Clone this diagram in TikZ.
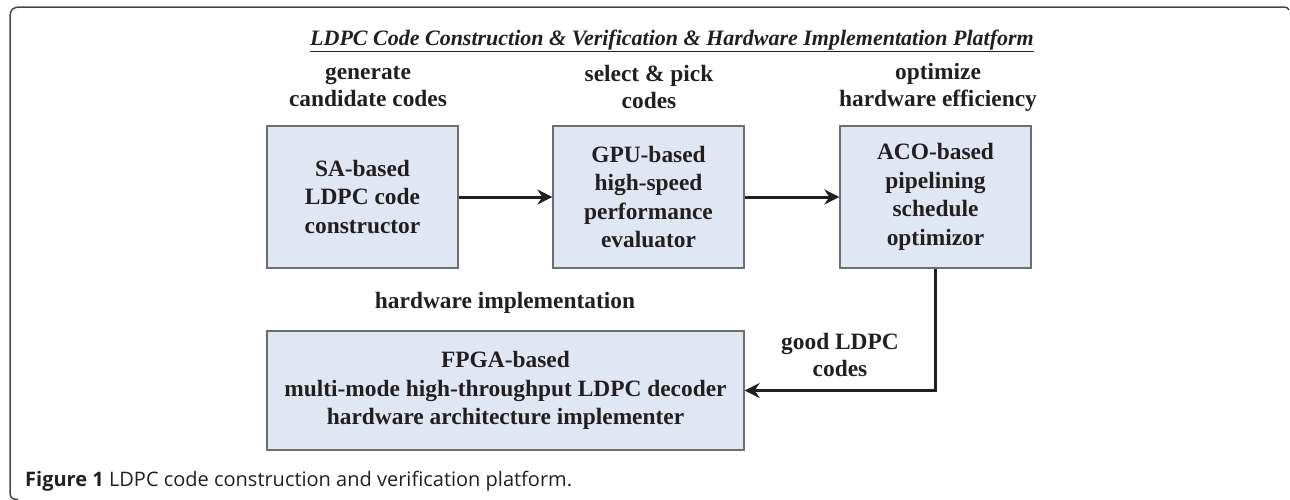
\documentclass[tikz,border=0pt]{standalone}
\usepackage{fontspec}
\setmainfont{Liberation Serif}
\newfontfamily\capfont{Open Sans}
\usetikzlibrary{arrows.meta}
\definecolor{boxfill}{RGB}{225,231,242}
\definecolor{boxdraw}{RGB}{110,110,110}
\definecolor{ink}{RGB}{35,31,32}
\definecolor{framecol}{RGB}{70,70,70}
\tikzset{
  blockbox/.style={draw=boxdraw, fill=boxfill, line width=1.2pt, align=center,
    text=ink, font=\bfseries\fontsize{23.4}{28.5}\selectfont, inner sep=0pt},
  lbl/.style={align=center, text=ink, font=\bfseries\fontsize{23.4}{27}\selectfont, inner sep=0pt},
  flow/.style={draw=ink, line width=3pt, -{Stealth[length=15pt,width=15pt]}},
}
\begin{document}
\begin{tikzpicture}[x=1pt,y=-1pt]
\useasboundingbox (0,0) rectangle (1290,499);
% frame
\draw[framecol, line width=1.5pt] (18,499.5) .. controls (10,499) and (10,497) .. (10,489) -- (10,19) .. controls (10,9) and (12,7) .. (22,7) -- (1284,7) .. controls (1287,7) and (1288,8) .. (1289,10);
% title
\node[anchor=base, text=ink, font=\bfseries\itshape\fontsize{22}{26}\selectfont, inner sep=0pt] (title) at (672,45) {\underline{LDPC Code Construction \& Verification \& Hardware Implementation Platform}};
% stage labels
\node[lbl] (l1) at (368,87) {generate\\candidate codes};
\node[lbl] (l2) at (649,87) {select \& pick\\codes};
\node[lbl] (l3) at (938,87) {optimize\\hardware efficiency};
% boxes
\node[blockbox, minimum width=191pt, minimum height=142pt] (sa) at (362.5,197) {SA-based\\LDPC code\\constructor};
\node[blockbox, minimum width=191pt, minimum height=142pt] (gpu) at (648.5,197) {GPU-based\\high-speed\\performance\\evaluator};
\node[blockbox, minimum width=191pt, minimum height=142pt] (aco) at (935.5,197) {ACO-based\\pipelining\\schedule\\optimizor};
\node[blockbox, minimum width=477pt, minimum height=119pt] (fpga) at (505.5,390.5) {FPGA-based\\multi-mode high-throughput LDPC decoder\\hardware architecture implementer};
% labels lower
\node[lbl] (hw) at (505,303) {hardware implementation};
\node[lbl] (good) at (840,355) {good LDPC\\codes};
% connectors
\draw[flow] (sa.east) -- (gpu.west);
\draw[flow] (gpu.east) -- (aco.west);
\draw[flow] (aco.south) |- (fpga.east);
% caption
\node[anchor=base west, inner sep=0pt, text=ink, font=\capfont\fontsize{20}{24}\selectfont] (cap) at (25,486) {\textbf{Figure 1} LDPC code construction and verification platform.};
\end{tikzpicture}
\end{document}
